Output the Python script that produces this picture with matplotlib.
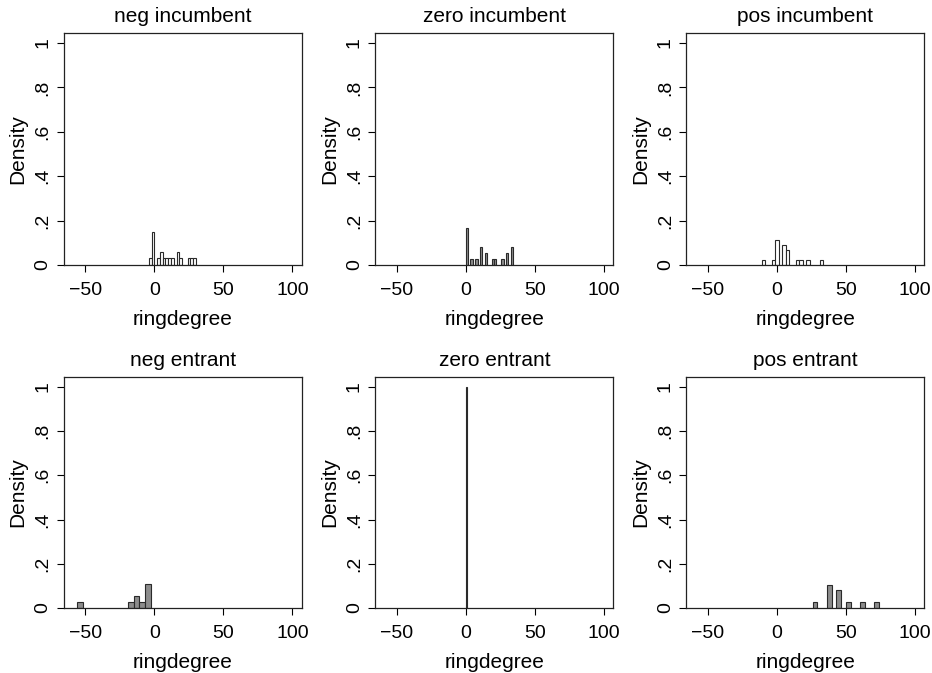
import matplotlib
matplotlib.use('Agg')
import matplotlib.pyplot as plt

# histogram panels (density per bin)
titles = ['neg incumbent', 'zero incumbent', 'pos incumbent',
          'neg entrant', 'zero entrant', 'pos entrant']
bin_start = [-3.9, 0.0, -10.95, -55.9, 0.0, 26.1]
bin_width = [2.0, 1.715, 2.49, 4.1, 1.0, 3.43]

neg_inc = [.03, .15, 0, .03, .06, .03, .03, .03, .03, 0, .06, .03, 0, 0, .03, .03, .03]
zero_inc = [.166, 0, .028, 0, .028, 0, .083, 0, .055, 0, 0, .028, .028, 0, 0, .028, 0, .055, 0, .083]
pos_inc = [.022, 0, 0, .022, .112, 0, .089, .067, 0, 0, .022, .022, 0, .022, 0, 0, 0, .022]
neg_ent = [.0275, 0, 0, 0, 0, 0, 0, 0, 0, .0275, .055, .0275, .11]
zero_ent = [1.0]
pos_ent = [.0265, 0, 0, .106, 0, .0795, 0, .0265, 0, 0, .0265, 0, 0, .0265]
densities = [neg_inc, zero_inc, pos_inc, neg_ent, zero_ent, pos_ent]

fills = ['white', '#8c8c8c', 'white', '#8c8c8c', '#8c8c8c', '#8c8c8c']

x_ticks = [-50, 0, 50, 100]
y_ticks = [0, .2, .4, .6, .8, 1]
y_labels = ['0', '.2', '.4', '.6', '.8', '1']

plt.rcParams['font.family'] = ['Liberation Sans', 'DejaVu Sans']

W, H = 932, 673
fig = plt.figure(figsize=(W / 100, H / 100), dpi=100)

col_left = [64, 375.4, 686.4]
row_top = [33, 377]
row_bottom = [265, 608]
ax_w = 238

for i, title in enumerate(titles):
    r, c = divmod(i, 3)
    left = col_left[c] / W
    bottom = 1 - row_bottom[r] / H
    height = (row_bottom[r] - row_top[r]) / H
    ax = fig.add_axes([left, bottom, ax_w / W, height])

    w = bin_width[i]
    lefts, heights = [], []
    for k, d in enumerate(densities[i]):
        if d > 0:
            lefts.append(bin_start[i] + k * w)
            heights.append(d)
    ax.bar(lefts, heights, width=w, align='edge', color=fills[i],
           edgecolor='#2a2a2a', linewidth=0.8, zorder=2)

    ax.set_xlim(-65.4, 107.0)
    ax.set_ylim(0, 1.045)
    ax.set_xticks(x_ticks)
    ax.set_yticks(y_ticks)
    ax.set_yticklabels(y_labels, rotation=90, va='center')
    ax.tick_params(direction='out', length=5, width=0.8, labelsize=14,
                   colors='black')
    ax.tick_params(axis='x', pad=7)
    ax.tick_params(axis='y', pad=4)
    for s in ax.spines.values():
        s.set_linewidth(0.9)
        s.set_color('#222222')
    ax.set_title(title, fontsize=15, pad=8)
    ax.set_xlabel('ringdegree', fontsize=15, labelpad=8)
    ax.set_ylabel('Density', fontsize=15, labelpad=5)

fig.savefig('out.png', dpi=100, facecolor='white')
